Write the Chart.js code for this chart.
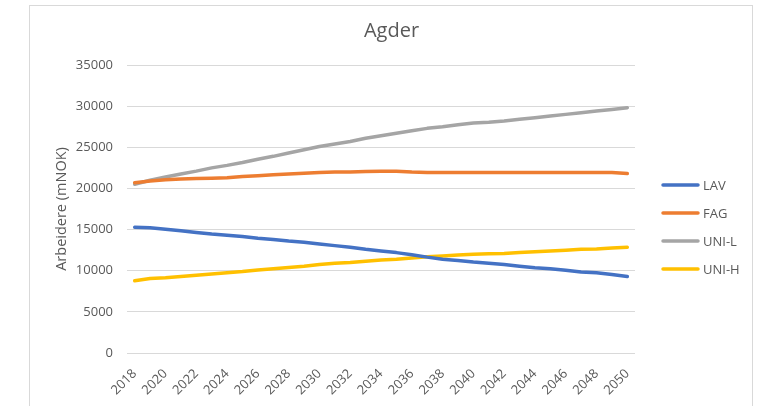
<!DOCTYPE html>
<html>
<head>
<meta charset="utf-8">
<script src="https://cdn.jsdelivr.net/npm/chart.js@4.4.0/dist/chart.umd.min.js"></script>
<style>
  html, body { margin: 0; padding: 0; background: #fff; }
  #wrap { position: relative; width: 762px; height: 406px; overflow: hidden; }
  #frame { position: absolute; left: 29px; top: 5px; width: 724px; height: 420px; border: 1px solid #d9d9d9; box-sizing: border-box; }
  canvas { position: absolute; left: 0; top: 0; }
</style>
</head>
<body>
<div id="wrap">
  <div id="frame"></div>
  <canvas id="chartAgder" width="762" height="406"></canvas>
</div>
<script>
// Data
const years = ['2018','2019','2020','2021','2022','2023','2024','2025','2026','2027','2028',
  '2029','2030','2031','2032','2033','2034','2035','2036','2037','2038','2039','2040',
  '2041','2042','2043','2044','2045','2046','2047','2048','2049','2050'];

const lav = [15280,15220,15050,14850,14650,14450,14300,14150,13950,13800,13600,
  13450,13250,13050,12850,12600,12400,12200,11950,11650,11400,11250,11050,
  10900,10750,10550,10350,10250,10050,9850,9750,9550,9300];

const fag = [20700,20900,21050,21150,21200,21250,21300,21450,21550,21650,21750,
  21850,21950,22000,22000,22050,22100,22100,22000,21950,21950,21950,21950,
  21950,21950,21950,21950,21950,21950,21950,21950,21950,21800];

const uniL = [20500,21000,21400,21750,22100,22500,22800,23150,23550,23900,24300,
  24700,25100,25400,25700,26100,26400,26700,27000,27300,27500,27750,27950,
  28050,28200,28400,28600,28800,29000,29200,29400,29600,29800];

const uniH = [8780,9050,9150,9300,9450,9600,9750,9900,10100,10250,10400,
  10550,10750,10900,11000,11150,11300,11400,11550,11700,11800,11900,12000,
  12050,12100,12200,12300,12400,12500,12600,12650,12750,12850];

const seriesNames = ['LAV', 'FAG', 'UNI-L', 'UNI-H'];
const seriesColors = ['#4472c4', '#ed7d31', '#a5a5a5', '#ffc000'];

const yTicks = { min: 0, max: 35000, step: 5000 };

const textColor = '#595959';
const fontName = "'Open Sans', 'Liberation Sans', sans-serif";

// legend drawn to the right of the plot, like Excel's
const sideLegend = {
  id: 'sideLegend',
  afterDraw(chart) {
    const ctx = chart.ctx;
    const area = chart.chartArea;
    const rowH = 28;
    const n = chart.data.datasets.length;
    const midY = (area.top + area.bottom) / 2 + 18;
    const x0 = area.right + 28;
    ctx.save();
    ctx.font = '13px ' + fontName;
    ctx.textBaseline = 'middle';
    chart.data.datasets.forEach((ds, i) => {
      const y = midY + (i - (n - 1) / 2) * rowH;
      ctx.strokeStyle = ds.borderColor;
      ctx.lineWidth = 3.5;
      ctx.lineCap = 'round';
      ctx.beginPath();
      ctx.moveTo(x0, y);
      ctx.lineTo(x0 + 35, y);
      ctx.stroke();
      ctx.fillStyle = textColor;
      ctx.fillText(ds.label, x0 + 40, y + 1);
    });
    ctx.restore();
  }
};

const makeSet = (i, values) => ({
  label: seriesNames[i],
  data: values,
  borderColor: seriesColors[i],
  backgroundColor: seriesColors[i],
  borderWidth: 3.5,
  borderCapStyle: 'round',
  borderJoinStyle: 'round',
  pointRadius: 0,
  tension: 0
});

const chartAgder = new Chart(
  document.getElementById('chartAgder'),
  {
    type: 'line',
    data: {
      labels: years,
      datasets: [makeSet(0, lav), makeSet(1, fag), makeSet(2, uniL), makeSet(3, uniH)]
    },
    plugins: [sideLegend],
    options: {
      responsive: false,
      animation: false,
      layout: {
        padding: { left: 29, right: 8, top: 5, bottom: 0 }
      },
      plugins: {
        title: {
          display: true,
          text: 'Agder',
          color: textColor,
          font: { family: fontName, size: 20, weight: 'normal' },
          padding: { top: 14, bottom: 22 }
        },
        legend: { display: false },
        tooltip: { enabled: false }
      },
      scales: {
        x: {
          offset: true,
          grid: { display: false },
          border: { display: false },
          ticks: {
            color: textColor,
            font: { family: fontName, size: 13 },
            autoSkip: false,
            minRotation: 45,
            maxRotation: 45,
            padding: 5,
            callback: function (val, i) {
              return i % 2 === 0 ? this.getLabelForValue(val) : '';
            }
          },
          afterFit: (scale) => { scale.height = 53; }
        },
        y: {
          min: yTicks.min,
          max: yTicks.max,
          grid: { color: '#d9d9d9', lineWidth: 1, drawTicks: false },
          border: { display: false },
          ticks: {
            stepSize: yTicks.step,
            color: textColor,
            font: { family: fontName, size: 13 },
            padding: 14,
            callback: (v) => String(v)
          },
          title: {
            display: true,
            text: 'Arbeidere (mNOK)',
            color: textColor,
            font: { family: fontName, size: 14.5 },
            padding: { top: 24, bottom: 0 }
          },
          afterFit: (scale) => { scale.width = 98; }
        },
        // empty right-hand axis: keeps room for the legend
        ySide: {
          position: 'right',
          display: true,
          grid: { display: false },
          border: { display: false },
          ticks: { display: false },
          afterFit: (scale) => { scale.width = 119; }
        }
      }
    }
  }
);
</script>
</body>
</html>
